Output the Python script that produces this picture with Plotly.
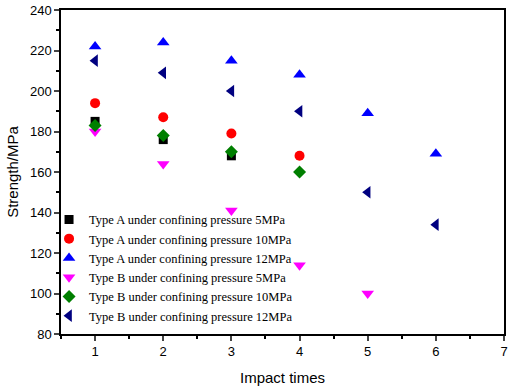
import plotly.graph_objects as go

names = [
    "Type A under confining pressure 5MPa",
    "Type A under confining pressure 10MPa",
    "Type A under confining pressure 12MPa",
    "Type B under confining pressure 5MPa",
    "Type B under confining pressure 10MPa",
    "Type B under confining pressure 12MPa",
]
a5_x = [1, 2, 3]
a5_y = [185, 176, 168]
a10_x = [1, 2, 3, 4]
a10_y = [194, 187, 179, 168]
a12_x = [1, 2, 3, 4, 5, 6]
a12_y = [222, 224, 215, 208, 189, 169]
b5_x = [1, 2, 3, 4, 5]
b5_y = [180, 164, 141, 114, 100]
b10_x = [1, 2, 3, 4]
b10_y = [183, 178, 170, 160]
b12_x = [1, 2, 3, 4, 5, 6]
b12_y = [215, 209, 200, 190, 150, 134]

series = [
    (a5_x, a5_y, "square", "#000000", 9),
    (a10_x, a10_y, "circle", "#ff0000", 10),
    (a12_x, a12_y, "triangle-up", "#0000ff", 11),
    (b5_x, b5_y, "triangle-down", "#ff00ff", 11),
    (b10_x, b10_y, "diamond", "#007f00", 10),
    (b12_x, b12_y, "triangle-left", "#000080", 11),
]

fig = go.Figure()
for name, (xs, ys, sym, col, sz) in zip(names, series):
    fig.add_trace(go.Scatter(x=xs, y=ys, mode="markers", name=name,
                             marker=dict(symbol=sym, color=col, size=sz, line=dict(width=0))))

fig.update_layout(
    width=510, height=386,
    margin=dict(l=61, r=6, t=10, b=52),
    paper_bgcolor="white", plot_bgcolor="white",
    font=dict(family="Liberation Sans, Arial, sans-serif", color="black", size=13),
    legend=dict(x=-0.027, y=0.01, xanchor="left", yanchor="bottom",
                bgcolor="rgba(0,0,0,0)", tracegroupgap=0,
                font=dict(family="Liberation Serif, Times New Roman, serif", size=12.5),
                itemwidth=30),
    showlegend=True,
)
fig.update_xaxes(range=[0.5, 7], dtick=1, tick0=1, ticks="outside", ticklen=5, tickwidth=1.5,
                 showline=True, linecolor="black", linewidth=1.5, mirror=True, showgrid=False,
                 zeroline=False, automargin=False,
                 minor=dict(dtick=0.5, tick0=0.5, ticks="outside", ticklen=3, tickwidth=1.5, tickcolor="black"),
                 title=dict(text="Impact times", font=dict(size=15), standoff=16))
fig.update_yaxes(range=[80, 240], dtick=20, ticks="outside", ticklen=5, tickwidth=1.5,
                 showline=True, linecolor="black", linewidth=1.5, mirror=True, showgrid=False,
                 zeroline=False, automargin=False,
                 minor=dict(dtick=10, ticks="outside", ticklen=3, tickwidth=1.5, tickcolor="black"),
                 title=dict(text="Strength/MPa", font=dict(size=15), standoff=8))

fig.write_html("out.html", config={"displayModeBar": False},
               post_script="document.body.style.margin='0';")
